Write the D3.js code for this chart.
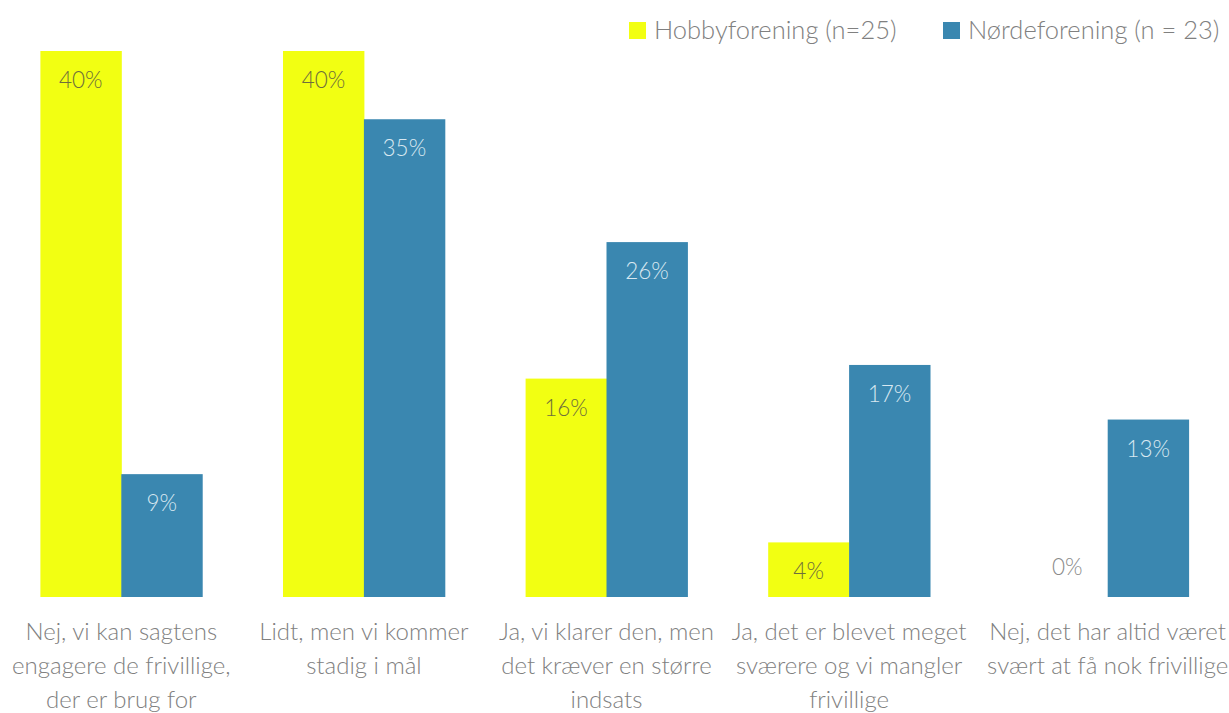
<!DOCTYPE html>
<html>
<head>
<meta charset="utf-8">
<title>Frivillige</title>
<script src="https://cdn.jsdelivr.net/npm/d3@7"></script>
<style>
body { margin: 0; background: #fff; overflow: hidden; }
svg { font-family: "Lato", "Noto Sans", sans-serif; font-weight: 300; }
</style>
</head>
<body>
<script>
// categories, lines split as in the original axis
var categories = [
  "Nej, vi kan sagtens\nengagere de frivillige,\nder er brug for",
  "Lidt, men vi kommer\nstadig i mål",
  "Ja, vi klarer den, men\ndet kræver en større\nindsats",
  "Ja, det er blevet meget\nsværere og vi mangler\nfrivillige",
  "Nej, det har altid været\nsvært at få nok frivillige"
];
var seriesNames = ["Hobbyforening (n=25)", "Nørdeforening (n = 23)"];
var hobby = [40, 40, 16, 4, 0];
var noerd = [9, 35, 26, 17, 13];
var colors = ["#f2ff12", "#3a87b0"];
var labelColors = ["#6e6e3c", "#d8e8f1"];

var width = 1229, height = 713,
    baseY = 597, topY = 51,
    lastGap = 16; // the last group sits a little further right in the original

var svg = d3.select("body").append("svg")
  .attr("width", width).attr("height", height);

var x0 = d3.scaleBand().domain(d3.range(categories.length))
  .range([0, 1213]).paddingInner(0.333).paddingOuter(0.1665);
var x1 = d3.scaleBand().domain([0, 1]).range([0, x0.bandwidth()]);
var y = d3.scaleLinear().domain([0, 40]).range([baseY, topY]);

function gx(i) { return x0(i) + (i === categories.length - 1 ? lastGap : 0); }

var rows = [];
categories.forEach(function(c, i) {
  rows.push({cat: i, s: 0, v: hobby[i]});
  rows.push({cat: i, s: 1, v: noerd[i]});
});

var g = svg.append("g");
g.selectAll("rect.bar").data(rows).enter().append("rect")
  .attr("class", "bar")
  .attr("x", function(d) { return gx(d.cat) + x1(d.s); })
  .attr("y", function(d) { return y(d.v); })
  .attr("width", x1.bandwidth() + 0.5)
  .attr("height", function(d) { return baseY - y(d.v); })
  .attr("fill", function(d) { return colors[d.s]; });

g.selectAll("text.val").data(rows).enter().append("text")
  .attr("class", "val")
  .attr("x", function(d) { return gx(d.cat) + x1(d.s) + x1.bandwidth() / 2; })
  .attr("y", function(d) { return d.v > 0 ? y(d.v) + 37 : baseY - 22; })
  .attr("text-anchor", "middle")
  .attr("font-size", 22.5)
  .attr("fill", function(d) { return d.v > 0 ? labelColors[d.s] : "#8a8a8a"; })
  .text(function(d) { return d.v + "%"; });

// category labels
var cl = svg.selectAll("text.cat").data(categories).enter().append("text")
  .attr("class", "cat")
  .attr("text-anchor", "middle")
  .attr("font-size", 24)
  .attr("fill", "#808080");
cl.each(function(c, i) {
  var t = d3.select(this);
  c.split("\n").forEach(function(line, j) {
    t.append("tspan")
      .attr("x", gx(i) + x0.bandwidth() / 2)
      .attr("y", 640 + j * 34)
      .text(line);
  });
});

// legend
var legX = [629, 943];
var leg = svg.selectAll("g.leg").data(seriesNames).enter().append("g")
  .attr("class", "leg")
  .attr("transform", function(d, i) { return "translate(" + legX[i] + ",0)"; });
leg.append("rect").attr("x", 0).attr("y", 22).attr("width", 17).attr("height", 17)
  .attr("fill", function(d, i) { return colors[i]; });
leg.append("text").attr("x", 25).attr("y", 39)
  .attr("font-size", 25.5).attr("fill", "#808080")
  .text(function(d) { return d; });
</script>
</body>
</html>
